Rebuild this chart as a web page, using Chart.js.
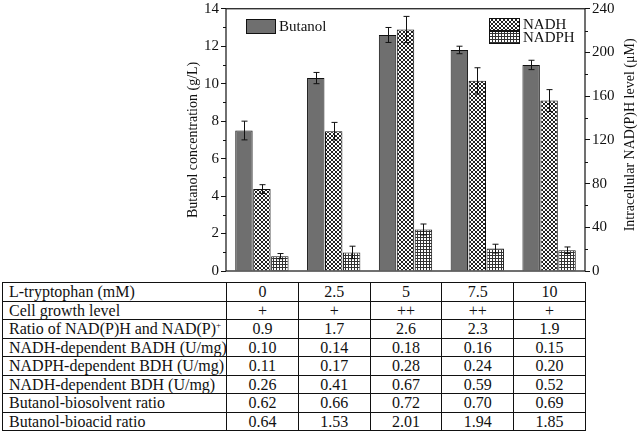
<!DOCTYPE html>
<html>
<head>
<meta charset="utf-8">
<script src="https://cdn.jsdelivr.net/npm/chart.js@4.4.0/dist/chart.umd.min.js"></script>
<style>
body { margin: 0; background: #fff; }
#wrap { position: relative; width: 638px; height: 431px; }
#chart { position: absolute; left: 0; top: 0; }
#tbl {
    position: absolute; left: 2px; top: 282px; width: 584px;
    border-collapse: collapse; table-layout: fixed;
    font-family: "Liberation Serif", "Times New Roman", serif; font-size: 16px; color: #111;
    border: 1.5px solid #111;
}
#tbl td { border: 1px solid #111; height: 17.5px; line-height: 17px; padding: 0; text-align: center; white-space: nowrap; }
#tbl td.name { text-align: left; padding-left: 6px; }
#tbl sup { font-size: 9px; vertical-align: 6px; line-height: 0; }
</style>
</head>
<body>
<div id="wrap">
<canvas id="chart" width="638" height="282"></canvas>
<table id="tbl">
  <colgroup><col style="width:224px"><col><col><col><col><col></colgroup>
  <tbody id="tbody"></tbody>
</table>
</div>
<script>
// nong do L-tryptophan (mM)
const tryptophan = ['0', '2.5', '5', '7.5', '10'];

// Butanol (g/L) - truc trai
const butanol = [7.5, 10.3, 12.6, 11.8, 11.0];
const butanolErr = [0.5, 0.3, 0.4, 0.2, 0.25];

// NADH, NADPH (uM) - truc phai
const nadh = [75, 128, 221, 174, 156];
const nadhErr = [4, 8, 12, 12, 10];
const nadph = [13.6, 17, 38, 20.5, 19];
const nadphErr = [2.4, 5.7, 5, 4, 3];

// bang ben duoi
const rowNames = [
    'L-tryptophan (mM)',
    'Cell growth level',
    'Ratio of NAD(P)H and NAD(P)<sup>+</sup>',
    'NADH-dependent BADH (U/mg)',
    'NADPH-dependent BDH (U/mg)',
    'NADH-dependent BDH (U/mg)',
    'Butanol-biosolvent ratio',
    'Butanol-bioacid ratio'
];
const cellGrowth = ['+', '+', '++', '++', '+'];
const ratioNADPH = ['0.9', '1.7', '2.6', '2.3', '1.9'];
const nadhBADH = ['0.10', '0.14', '0.18', '0.16', '0.15'];
const nadphBDH = ['0.11', '0.17', '0.28', '0.24', '0.20'];
const nadhBDH = ['0.26', '0.41', '0.67', '0.59', '0.52'];
const biosolvent = ['0.62', '0.66', '0.72', '0.70', '0.69'];
const bioacid = ['0.64', '1.53', '2.01', '1.94', '1.85'];

const tableRows = [tryptophan, cellGrowth, ratioNADPH, nadhBADH, nadphBDH, nadhBDH, biosolvent, bioacid];
const tbody = document.getElementById('tbody');
tableRows.forEach((vals, i) => {
    const tr = document.createElement('tr');
    let html = '<td class="name">' + rowNames[i] + '</td>';
    vals.forEach(v => { html += '<td>' + v + '</td>'; });
    tr.innerHTML = html;
    tbody.appendChild(tr);
});

const FONT = '"Liberation Serif", "Times New Roman", serif';

// hoa van cho cot
function makeCross() {
    const c = document.createElement('canvas');
    c.width = 4; c.height = 4;
    const g = c.getContext('2d');
    g.fillStyle = '#fff'; g.fillRect(0, 0, 4, 4);
    g.fillStyle = '#222';
    for (let i = 0; i < 4; i++) {
        g.fillRect(i, i, 1, 1);
        g.fillRect(3 - i, i, 1, 1);
    }
    return g.createPattern(c, 'repeat');
}
function makeGrid() {
    const c = document.createElement('canvas');
    c.width = 3; c.height = 3;
    const g = c.getContext('2d');
    g.fillStyle = '#fff'; g.fillRect(0, 0, 3, 3);
    g.fillStyle = '#333';
    g.fillRect(0, 0, 3, 1); g.fillRect(0, 0, 1, 3);
    return g.createPattern(c, 'repeat');
}
const crossFill = makeCross();
const gridFill = makeGrid();
const butanolColor = '#6f6f6f';

const errors = [butanolErr, nadhErr, nadphErr];

const extras = {
    id: 'extras',
    afterDatasetsDraw(chart) {
        const ctx = chart.ctx;
        const a = chart.chartArea;
        ctx.save();
        // khung
        ctx.strokeStyle = '#111';
        ctx.lineWidth = 1.2;
        ctx.strokeRect(a.left, a.top, a.right - a.left, a.bottom - a.top);

        // minor ticks
        ctx.lineWidth = 1;
        const yL = chart.scales.y, yR = chart.scales.y1;
        for (let v = 1; v < 14; v += 2) {
            const p = Math.round(yL.getPixelForValue(v)) + 0.5;
            ctx.beginPath(); ctx.moveTo(a.left - 3, p); ctx.lineTo(a.left, p); ctx.stroke();
        }
        for (let v = 20; v < 240; v += 40) {
            const p = Math.round(yR.getPixelForValue(v)) + 0.5;
            ctx.beginPath(); ctx.moveTo(a.right, p); ctx.lineTo(a.right + 3, p); ctx.stroke();
        }

        // error bars
        chart.data.datasets.forEach((ds, di) => {
            const meta = chart.getDatasetMeta(di);
            const sc = chart.scales[ds.yAxisID];
            meta.data.forEach((bar, i) => {
                const v = ds.data[i], e = errors[di][i];
                const x = Math.round(bar.x) + 0.5;
                const t = sc.getPixelForValue(v + e), b = sc.getPixelForValue(v - e);
                ctx.beginPath();
                ctx.moveTo(x, t); ctx.lineTo(x, b);
                ctx.moveTo(x - 3, t); ctx.lineTo(x + 3, t);
                ctx.moveTo(x - 3, b); ctx.lineTo(x + 3, b);
                ctx.stroke();
            });
        });

        // chu thich
        ctx.font = '15px ' + FONT;
        ctx.textBaseline = 'middle';
        ctx.fillStyle = '#111';
        const items = [
            { fill: butanolColor, x: a.left + 20, y: 19, w: 29, h: 14, text: 'Butanol' },
            { fill: crossFill, x: 489, y: 18, w: 30, h: 12, text: 'NADH' },
            { fill: gridFill, x: 489, y: 31, w: 30, h: 12, text: 'NADPH' }
        ];
        items.forEach(it => {
            ctx.fillStyle = it.fill;
            ctx.fillRect(it.x, it.y, it.w, it.h);
            ctx.strokeRect(it.x + 0.5, it.y + 0.5, it.w, it.h);
            ctx.fillStyle = '#111';
            ctx.fillText(it.text, it.x + it.w + 4, it.y + it.h / 2 + 1);
        });

        // tieu de truc phai (doc tu duoi len)
        ctx.font = '14px ' + FONT;
        ctx.textAlign = 'center';
        ctx.translate(630, (a.top + a.bottom) / 2 - 5);
        ctx.rotate(-Math.PI / 2);
        ctx.fillText('Intracellular NAD(P)H level (μM)', 0, 0);
        ctx.restore();
    }
};

const ctx = document.getElementById('chart');
new Chart(ctx, {
    type: 'bar',
    data: {
        labels: tryptophan,
        datasets: [
            {
                label: 'Butanol',
                data: butanol,
                yAxisID: 'y',
                backgroundColor: butanolColor,
                borderColor: '#111',
                borderWidth: 1
            },
            {
                label: 'NADH',
                data: nadh,
                yAxisID: 'y1',
                backgroundColor: crossFill,
                borderColor: '#111',
                borderWidth: 1
            },
            {
                label: 'NADPH',
                data: nadph,
                yAxisID: 'y1',
                backgroundColor: gridFill,
                borderColor: '#111',
                borderWidth: 1
            }
        ]
    },
    options: {
        responsive: false,
        animation: false,
        categoryPercentage: 0.75,
        barPercentage: 0.97,
        layout: { padding: { left: 180, right: 0, top: 7, bottom: 11 } },
        scales: {
            x: { display: false },
            y: {
                position: 'left',
                min: 0, max: 14,
                afterFit(scale) { scale.width = 46; },
                ticks: {
                    stepSize: 2,
                    color: '#111',
                    padding: 2,
                    font: { family: FONT, size: 15, lineHeight: 0.9 }
                },
                grid: { drawOnChartArea: false, tickLength: 5, tickColor: '#111' },
                border: { display: false },
                title: {
                    display: true,
                    text: 'Butanol concentration (g/L)',
                    color: '#111',
                    font: { family: FONT, size: 14 },
                    padding: { top: 5, bottom: 0 }
                }
            },
            y1: {
                position: 'right',
                min: 0, max: 240,
                afterFit(scale) { scale.width = 53; },
                ticks: {
                    stepSize: 40,
                    color: '#111',
                    padding: 2,
                    font: { family: FONT, size: 15, lineHeight: 0.9 }
                },
                grid: { drawOnChartArea: false, tickLength: 5, tickColor: '#111' },
                border: { display: false },
                title: { display: false }
            }
        },
        plugins: {
            legend: { display: false },
            tooltip: { enabled: false }
        }
    },
    plugins: [extras]
});
</script>
</body>
</html>
